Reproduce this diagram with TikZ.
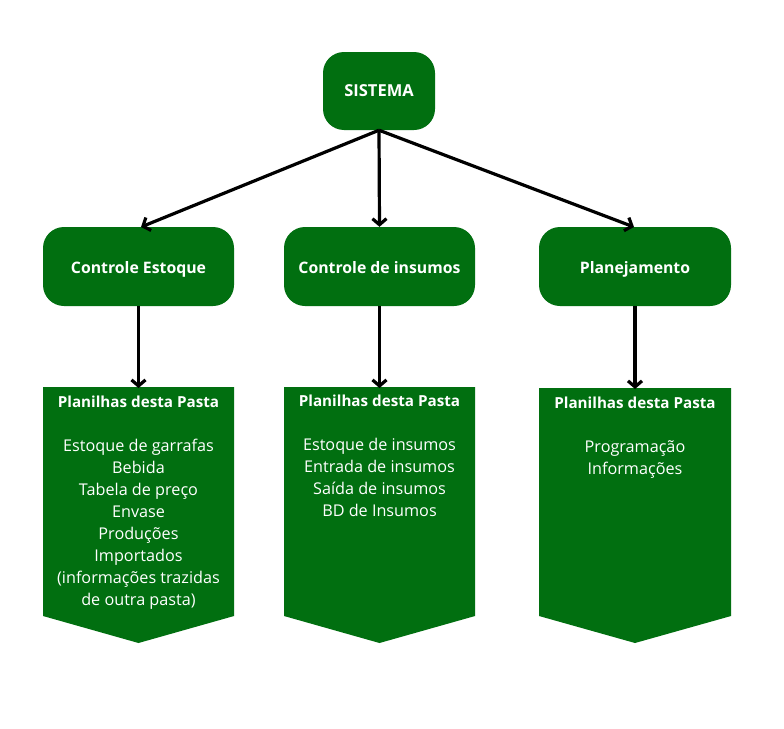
\documentclass[tikz,border=0pt]{standalone}
\usepackage{fontspec}
\setmainfont{Open Sans}
\usetikzlibrary{arrows.meta}
\definecolor{boxgreen}{RGB}{1,111,16}
\tikzset{
  topbox/.style={draw=none, fill=boxgreen, rounded corners=21pt, text=white,
    font=\fontsize{15.8}{19}\selectfont\bfseries, align=center, inner sep=0pt,
    text height=13.6pt, text depth=0pt},
  penta/.style={fill=boxgreen, draw=none},
  pentatext/.style={text=white, anchor=north, align=center, inner sep=0pt,
    font=\fontsize{16.2}{22}\selectfont},
  conn/.style={draw=black, line width=3.2pt, -{Straight Barb[length=6pt,width=14pt,line width=3.2pt]}}
}
\newcommand{\ptitle}{{\fontsize{15.2}{22}\selectfont\bfseries Planilhas desta Pasta}}
\begin{document}
\begin{tikzpicture}[x=1pt,y=-1pt]
\useasboundingbox (0,0) rectangle (784,728);
\fill[white] (0,0) rectangle (784,728);
% top nodes
\node[topbox, minimum width=112pt, minimum height=78pt, font=\fontsize{16.5}{19}\selectfont\bfseries, text height=11.4pt] (sis) at (379,91) {SISTEMA};
\node[topbox, minimum width=191pt, minimum height=79pt] (ce) at (138.5,266.5) {Controle Estoque};
\node[topbox, minimum width=191pt, minimum height=79pt] (ci) at (379.5,266.5) {Controle de insumos};
\node[topbox, minimum width=192pt, minimum height=79pt] (pl) at (635,266.5) {Planejamento};
% pentagons
\fill[penta] (43,387) -- (234,387) -- (234,616) -- (138.5,643) -- (43,616) -- cycle;
\fill[penta] (284,387) -- (475,387) -- (475,616) -- (379.5,643) -- (284,616) -- cycle;
\fill[penta] (539,388) -- (731,388) -- (731,616) -- (635,643) -- (539,616) -- cycle;
\coordinate (p1) at (138.5,388);
\coordinate (p2) at (379.5,388);
\coordinate (p3) at (635,389);
\node[pentatext] (t1) at (138.5,396) {\ptitle\\[22pt]Estoque de garrafas\\Bebida\\Tabela de preço\\Envase\\Produções\\Importados\\(informações trazidas\\de outra pasta)};
\node[pentatext] (t2) at (379.5,395) {\ptitle\\[22pt]Estoque de insumos\\Entrada de insumos\\Saída de insumos\\BD de Insumos};
\node[pentatext] (t3) at (635,397) {\ptitle\\[22pt]Programação\\Informações};
% connectors
\coordinate (a1) at (141,227);
\coordinate (a3) at (634,227);
\draw[conn] (sis.south) -- (a1);
\draw[conn] (sis.south) -- (ci.north);
\draw[conn] (sis.south) -- (a3);
\draw[conn] (ce.south) -- (p1);
\draw[conn] (ci.south) -- (p2);
\draw[conn] (pl.south) -- (p3);
\end{tikzpicture}
\end{document}
